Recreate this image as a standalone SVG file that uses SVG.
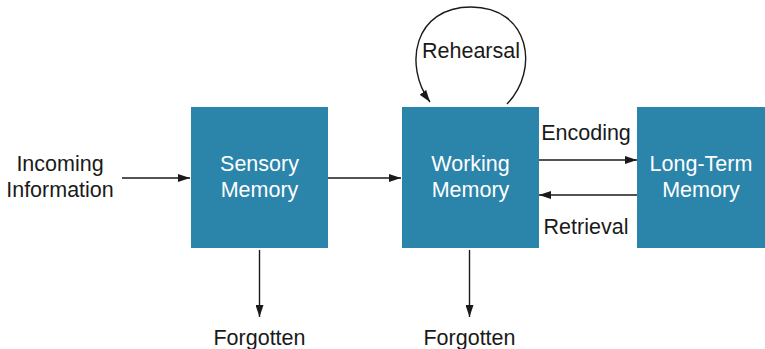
<svg xmlns="http://www.w3.org/2000/svg" width="765" height="349" viewBox="0 0 765 349">
<defs>
<style>
.box{fill:#2b84aa;}
.t{font-family:"Liberation Sans",Arial,sans-serif;font-size:21.5px;text-anchor:middle;fill:#1a1a1a;}
.w{fill:#ffffff;}
.c{stroke:#1a1a1a;stroke-width:1.4;fill:none;marker-end:url(#ah);}
</style>
<marker id="ah" viewBox="0 0 12 8" refX="12" refY="4" markerWidth="12" markerHeight="8" markerUnits="userSpaceOnUse" orient="auto">
<path d="M0,0 L12,4 L0,8 z" fill="#1a1a1a"/>
</marker>
</defs>
<rect width="765" height="349" fill="#ffffff"/>
<g id="incoming">
<text class="t" x="60" y="171">Incoming</text>
<text class="t" x="60" y="197">Information</text>
</g>
<g id="sensory">
<rect class="box" x="191" y="107" width="137" height="141"/>
<text class="t w" x="259.5" y="171">Sensory</text>
<text class="t w" x="259.5" y="197">Memory</text>
</g>
<g id="working">
<rect class="box" x="402" y="107" width="137" height="141"/>
<text class="t w" x="470.5" y="171">Working</text>
<text class="t w" x="470.5" y="197">Memory</text>
</g>
<g id="longterm">
<rect class="box" x="637" y="107" width="128" height="141"/>
<text class="t w" x="701" y="171">Long-Term</text>
<text class="t w" x="701" y="197">Memory</text>
</g>
<g id="forgotten1">
<text class="t" x="259.5" y="345">Forgotten</text>
</g>
<g id="forgotten2">
<text class="t" x="469.5" y="345">Forgotten</text>
</g>
<g id="connectors">
<line class="c" x1="122" y1="178" x2="190" y2="178"/>
<line class="c" x1="328" y1="178" x2="401" y2="178"/>
<line class="c" x1="539" y1="160" x2="637" y2="160"/>
<line class="c" x1="637" y1="195" x2="539" y2="195"/>
<line class="c" x1="259.5" y1="250" x2="259.5" y2="317"/>
<line class="c" x1="469.5" y1="250" x2="469.5" y2="317"/>
<path class="c" d="M507,104 C540,70 530,7 471,7 C414,7 403,65 430,102"/>
<text class="t" x="586" y="140">Encoding</text>
<text class="t" x="586" y="234">Retrieval</text>
<text class="t" x="471" y="58">Rehearsal</text>
</g>
</svg>
